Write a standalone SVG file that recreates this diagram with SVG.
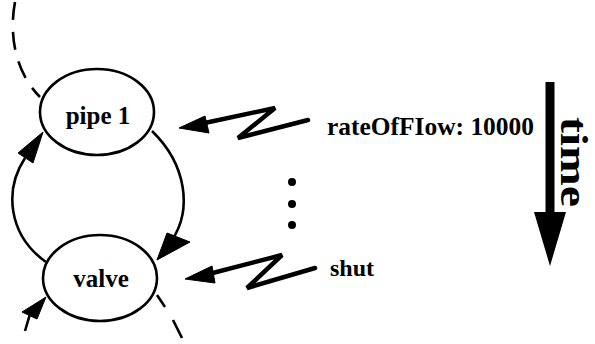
<svg xmlns="http://www.w3.org/2000/svg" width="595" height="344" viewBox="0 0 595 344">
<style>
.node{fill:#fff;stroke:#000;stroke-width:2.6}
.lbl{font-family:"Liberation Serif","Times New Roman",serif;font-weight:bold;fill:#000}
.edge{fill:none;stroke:#000;stroke-width:2.6}
.dash{fill:none;stroke:#000;stroke-width:2.6;stroke-dasharray:18 12}
.zig{fill:none;stroke:#000;stroke-width:4.5;stroke-linejoin:miter;stroke-linecap:round}
.head{fill:#000;stroke:#000;stroke-width:1;stroke-linejoin:round}
</style>
<rect width="595" height="344" fill="#fff"/>
<g id="connectors">
<path class="dash" d="M15,2 C8,40 18,75 40,97"/>
<path class="edge" d="M46,262 C8,235 4,190 25,158"/>
<polygon class="head" points="43,132 18,153 33,163"/>
<path class="edge" d="M152,131 C187,165 192,210 172,240"/>
<polygon class="head" points="157,260 167,233 190,242"/>
<path class="edge" d="M25,331 L30,314"/>
<polygon class="head" points="46,297 22,312 37,319"/>
<path class="edge" d="M157,295 L165,307"/>
<path class="edge" d="M173,320 L182,338"/>
</g>
<g id="pipe1">
<ellipse class="node" cx="97" cy="112" rx="57" ry="43"/>
<text class="lbl" x="98" y="124" font-size="25" text-anchor="middle">pipe 1</text>
</g>
<g id="valve">
<ellipse class="node" cx="100" cy="278" rx="57" ry="43"/>
<text class="lbl" x="101" y="287" font-size="25" text-anchor="middle">valve</text>
</g>
<g id="msg1">
<polyline class="zig" points="308,120 238,138 275,108 200,124"/>
<polygon class="head" points="179,128 205,116 209,133"/>
<text class="lbl" x="327" y="135" font-size="25" textLength="207" lengthAdjust="spacingAndGlyphs">rateOfFIow: 10000</text>
</g>
<g id="ellipsis">
<circle cx="292" cy="182" r="4"/>
<circle cx="292" cy="204" r="4"/>
<circle cx="292" cy="225" r="4"/>
</g>
<g id="msg2">
<polyline class="zig" points="315,268 247,288 282,255 205,275"/>
<polygon class="head" points="185,279 212,266 215,283"/>
<text class="lbl" x="330" y="276" font-size="24">shut</text>
</g>
<g id="time">
<line x1="550" y1="82" x2="550" y2="215" stroke="#000" stroke-width="9"/>
<polygon points="534,212 566,212 550,266" fill="#000"/>
<text class="lbl" font-size="37" textLength="90" lengthAdjust="spacingAndGlyphs" transform="translate(561,117) rotate(90)">time</text>
</g>
</svg>
